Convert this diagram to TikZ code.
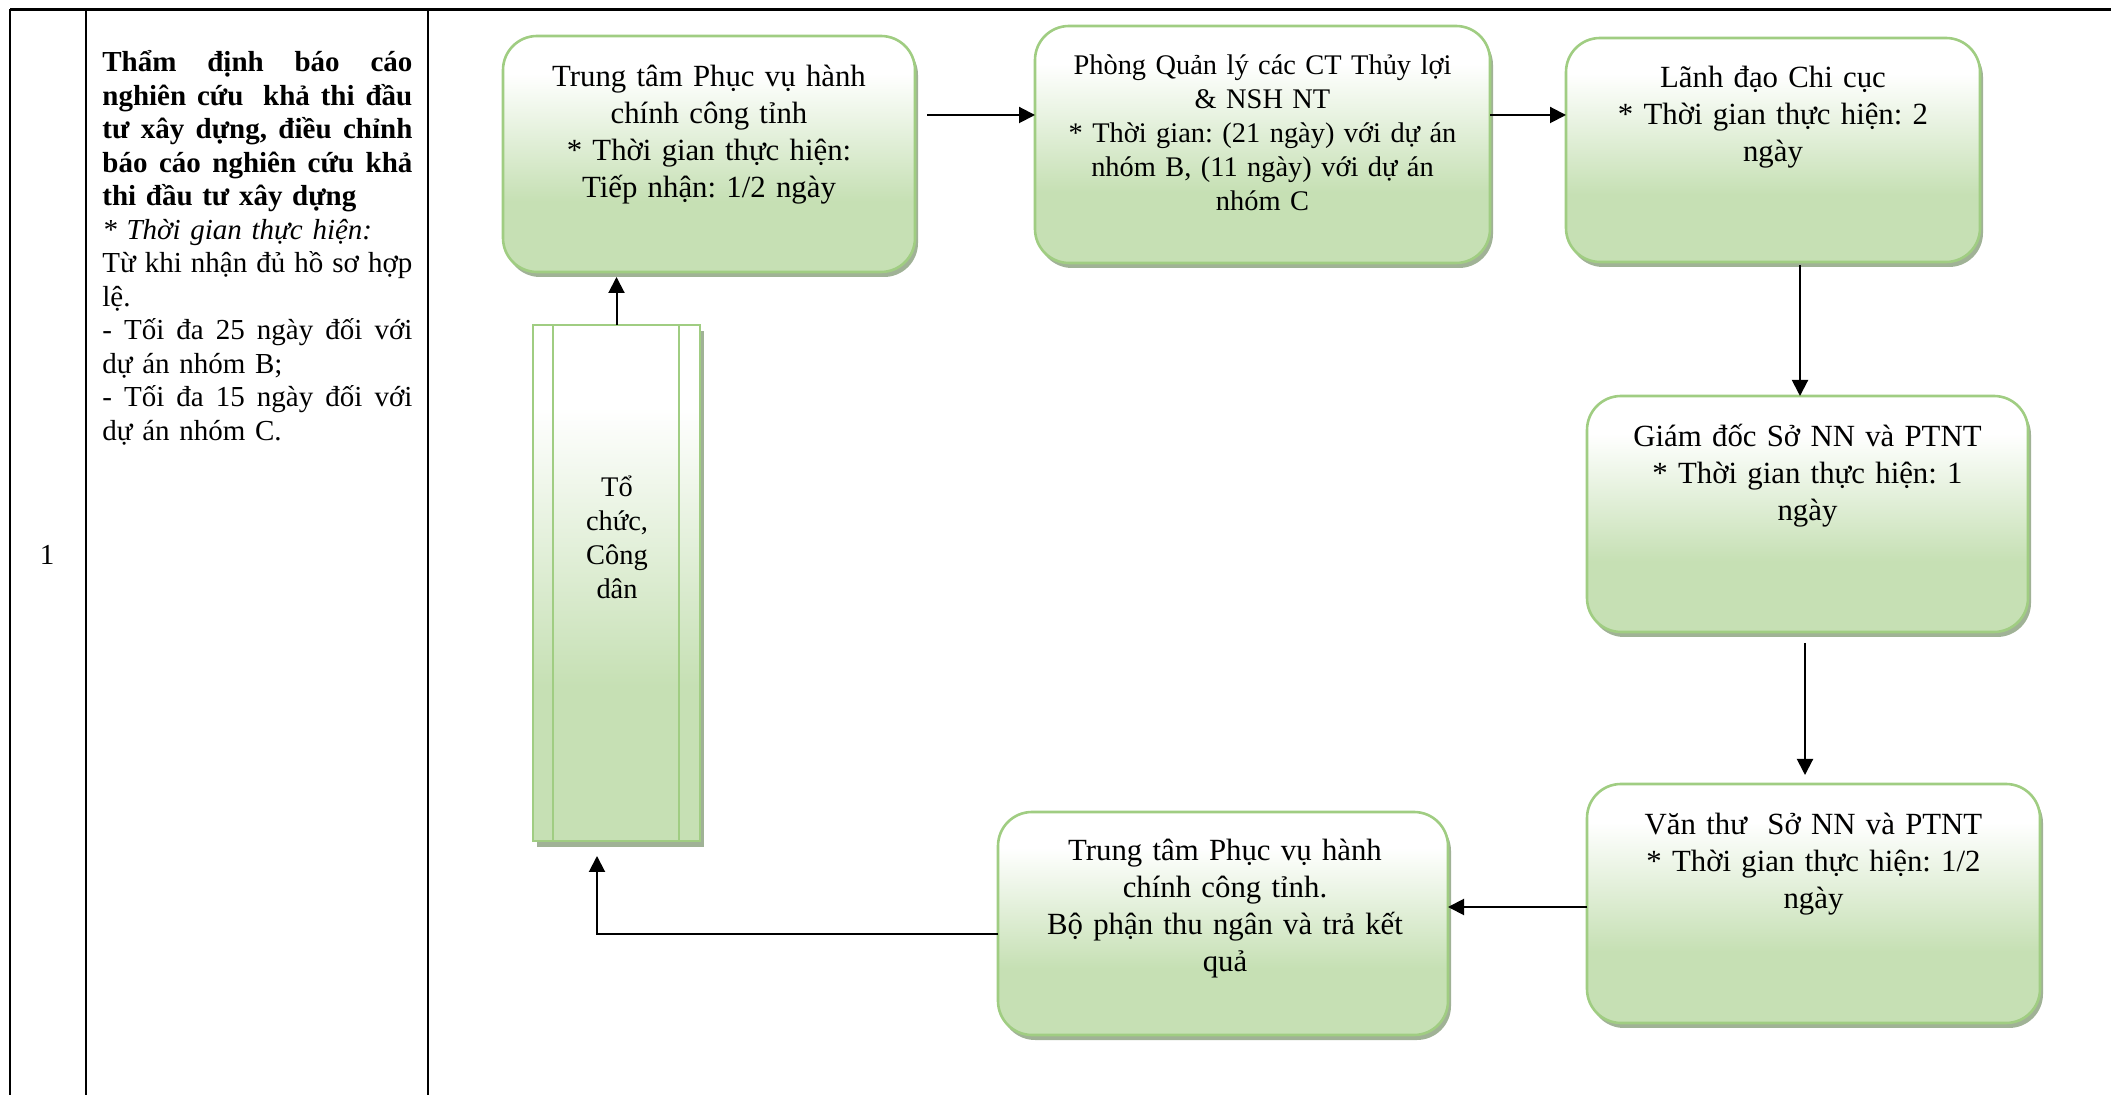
\documentclass[tikz,border=0pt]{standalone}
\usepackage{fontspec}
\setmainfont{Liberation Serif}
\usetikzlibrary{shadows,arrows.meta}
\definecolor{bgreen}{RGB}{198,224,180}
\definecolor{bborder}{RGB}{160,205,130}
\definecolor{shadowc}{RGB}{160,178,150}
\pgfdeclareverticalshading{greenfade}{100bp}{color(0bp)=(bgreen); color(40bp)=(bgreen); color(67bp)=(white); color(100bp)=(white)}
\newcommand\jsp{\hskip 0.2em plus 1fill\relax}
\newcommand\jline[1]{\leavevmode\hbox to 155pt{#1}}
\tikzset{
  boxr/.style={draw=bborder, line width=1.3pt, rounded corners=17pt, shade, shading=greenfade,
    inner sep=0pt, outer sep=0pt,
    drop shadow={shadow xshift=1.5pt, shadow yshift=-2.5pt, fill=shadowc, opacity=1}},
  boxp/.style={draw=bborder, line width=1.2pt, shade, shading=greenfade,
    inner sep=0pt, outer sep=0pt,
    drop shadow={shadow xshift=2pt, shadow yshift=-3pt, fill=shadowc, opacity=1}},
  btxt/.style={anchor=base, align=center, text width=240pt, inner sep=0pt,
    font=\fontsize{15.4}{18.35}\selectfont\frenchspacing},
  btxs/.style={btxt, font=\fontsize{14.2}{16.9}\selectfont\frenchspacing},
  coltxt/.style={anchor=base west, align=left, text width=155pt, inner sep=0pt,
    font=\fontsize{14.5}{16.75}\selectfont\frenchspacing},
  arr/.style={line width=1pt, -{Triangle[length=8pt,width=8pt]}},
  tline/.style={line width=1.1pt}
}
\begin{document}
\begin{tikzpicture}[x=0.5pt, y=-0.5pt]
\useasboundingbox (0,0) rectangle (2111,1095);
% table
\draw[tline] (10,9.5) -- (2111,9.5);
\draw[tline] (10,9.5) -- (10,1095);
\draw[tline] (86,9.5) -- (86,1095);
\draw[tline] (428,9.5) -- (428,1095);
\node[anchor=base, inner sep=0pt, font=\fontsize{14.5}{16.75}\selectfont] (num) at (47,565) {1};
\node[coltxt] (desc) at (102,72) {%
\jline{\bfseries Thẩm\jsp định\jsp báo\jsp cáo}\\
\jline{\bfseries nghiên\jsp cứu\hskip0.3em\jsp khả\jsp thi\jsp đầu}\\
\jline{\bfseries tư\jsp xây\jsp dựng,\jsp điều\jsp chỉnh}\\
\jline{\bfseries báo\jsp cáo\jsp nghiên\jsp cứu\jsp khả}\\
\textbf{thi đầu tư xây dựng}\\
\textit{{*} Thời gian thực hiện:}\\
\jline{Từ\jsp khi\jsp nhận\jsp đủ\jsp hồ\jsp sơ\jsp hợp}\\
lệ.\\
\jline{-\jsp Tối\jsp đa\jsp 25\jsp ngày\jsp đối\jsp với}\\
dự án nhóm B;\\
\jline{-\jsp Tối\jsp đa\jsp 15\jsp ngày\jsp đối\jsp với}\\
dự án nhóm C.};

% boxes
\node[boxr, minimum width=206pt, minimum height=118pt] (b1) at (709,154) {};
\node[boxr, minimum width=227.5pt, minimum height=118.5pt] (b2) at (1262.5,144.5) {};
\node[boxr, minimum width=207pt, minimum height=112pt] (b3) at (1773,150) {};
\node[boxr, minimum width=220.5pt, minimum height=118pt] (b4) at (1807.5,514) {};
\node[boxr, minimum width=226.5pt, minimum height=119.5pt] (b5) at (1813.5,903.5) {};
\node[boxr, minimum width=225pt, minimum height=111.5pt] (b6) at (1223,923.5) {};
\node[boxp, minimum width=83.5pt, minimum height=258pt] (b7) at (616.5,583) {};
\draw[draw=bborder, line width=1.2pt] ([xshift=10pt]b7.north west) -- ([xshift=10pt]b7.south west);
\draw[draw=bborder, line width=1.2pt] ([xshift=-10.5pt]b7.north east) -- ([xshift=-10.5pt]b7.south east);

% texts
\node[btxt] (t1) at (709,87) {Trung tâm Phục vụ hành\\chính công tỉnh\\{*} Thời gian thực hiện:\\Tiếp nhận: 1/2 ngày};
\node[btxs] (t2) at (1262.5,75) {Phòng Quản lý các CT Thủy lợi\\\& NSH NT\\{*} Thời gian: (21 ngày) với dự án\\nhóm B, (11 ngày) với dự án\\nhóm C};
\node[btxt] (t3) at (1773,88) {Lãnh đạo Chi cục\\{*} Thời gian thực hiện: 2\\ngày};
\node[btxt] (t4) at (1807.5,447) {Giám đốc Sở NN và PTNT\\{*} Thời gian thực hiện: 1\\ngày};
\node[btxt] (t5) at (1813.5,835) {Văn thư~ Sở NN và PTNT\\{*} Thời gian thực hiện: 1/2\\ngày};
\node[btxt] (t6) at (1225,861) {Trung tâm Phục vụ hành\\chính công tỉnh.\\Bộ phận thu ngân và trả kết\\quả};
\node[btxs] (t7) at (617,497) {Tổ\\chức,\\Công\\dân};

% connectors
\coordinate (ya) at (0,115);
\coordinate (xd) at (1800,0);
\coordinate (xe) at (1805,0);
\coordinate (yf) at (0,907);
\coordinate (yg) at (0,934);
\coordinate (xg) at (597,0);
\draw[arr] (b7.north) -- ([yshift=-2.5pt]b7.north |- b1.south);
\draw[arr] ([xshift=6pt]b1.east |- ya) -- (b2.west |- ya);
\draw[arr] (b2.east |- ya) -- (b3.west |- ya);
\draw[arr] ([yshift=-1.5pt]xd |- b3.south) -- (xd |- b4.north);
\draw[arr] ([yshift=-5.5pt]xe |- b4.south) -- ([yshift=4.5pt]xe |- b5.north);
\draw[arr] (b5.west |- yf) -- (b6.east |- yf);
\draw[arr] (b6.west |- yg) -| ([yshift=-7.5pt]xg |- b7.south);
\end{tikzpicture}
\end{document}
